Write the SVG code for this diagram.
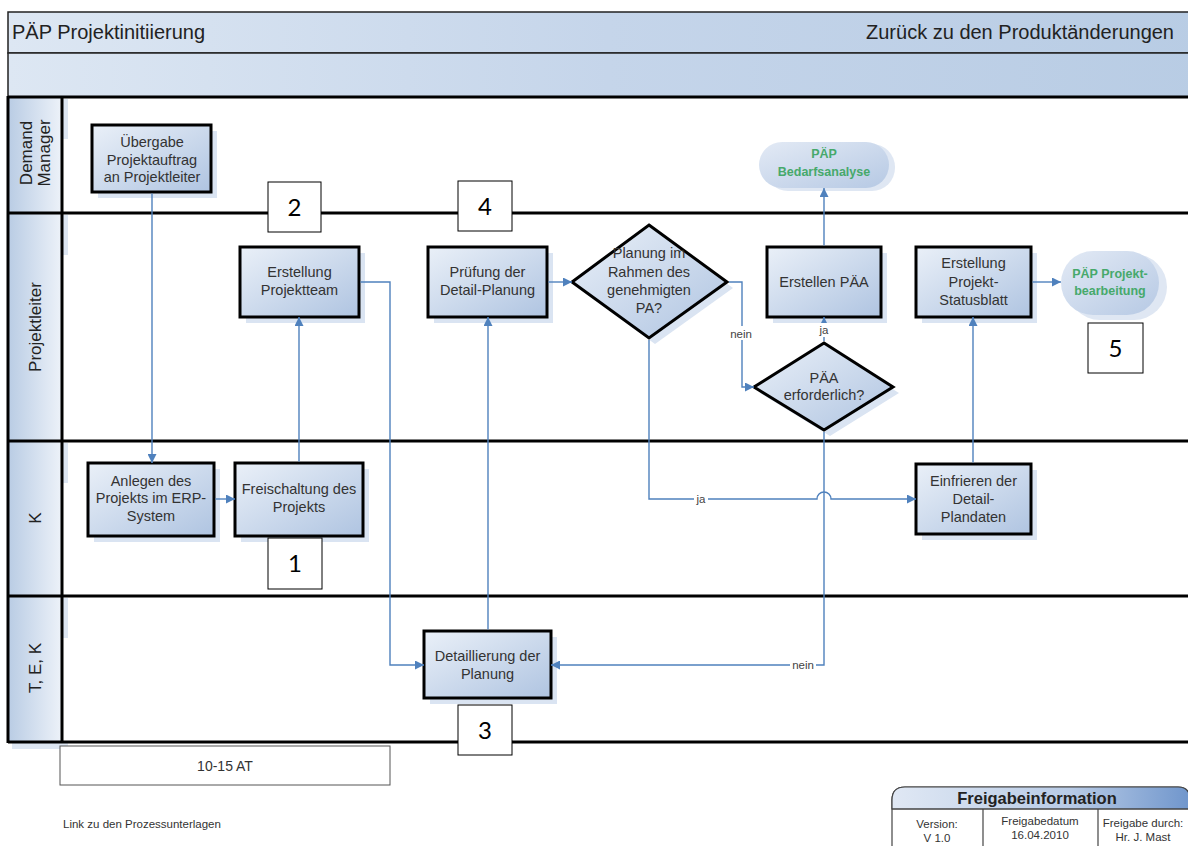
<svg xmlns="http://www.w3.org/2000/svg" width="1188" height="846" viewBox="0 0 1188 846">
<defs>
<linearGradient id="hdr" x1="0" y1="0" x2="1" y2="0"><stop offset="0" stop-color="#dde7f3"/><stop offset="0.5" stop-color="#c5d5ea"/><stop offset="1" stop-color="#b8cce4"/></linearGradient>
<linearGradient id="lane" x1="0" y1="0" x2="1" y2="0"><stop offset="0" stop-color="#b9cce4"/><stop offset="1" stop-color="#edf2f9"/></linearGradient>
<linearGradient id="node" x1="0" y1="0" x2="1" y2="1"><stop offset="0" stop-color="#eaf0f8"/><stop offset="1" stop-color="#afc4e1"/></linearGradient>
<linearGradient id="term" x1="0" y1="0" x2="1" y2="1"><stop offset="0" stop-color="#e3eaf5"/><stop offset="1" stop-color="#b6c9e4"/></linearGradient>
<linearGradient id="frei" x1="0" y1="0" x2="1" y2="0"><stop offset="0" stop-color="#e0e8f4"/><stop offset="0.6" stop-color="#b8cbe6"/><stop offset="1" stop-color="#7096cc"/></linearGradient>
<marker id="arr" viewBox="0 0 10 10" refX="10" refY="5" markerWidth="9" markerHeight="9" markerUnits="userSpaceOnUse" orient="auto"><path d="M0,0 L10,5 L0,10 z" fill="#4f81bd"/></marker>
</defs>
<style>
.t{font-family:"Liberation Sans",Arial,sans-serif;fill:#333;font-size:14.5px;text-anchor:middle}
.box{fill:url(#node);stroke:#000;stroke-width:3}
.sh{fill:#dae4f2}
.num{fill:#fff;stroke:#000;stroke-width:1}
.nt{font-family:Lato,"Open Sans",sans-serif;font-size:24px;fill:#000;text-anchor:middle}
.ln{fill:none;stroke:#000;stroke-width:3}
.c{fill:none;stroke:#4f81bd;stroke-width:1.4}
.lbl{font-family:"Liberation Sans",Arial,sans-serif;font-size:11.5px;fill:#444;text-anchor:middle}
.g{font-family:"Liberation Sans",Arial,sans-serif;font-size:12.5px;font-weight:bold;fill:#46a96b;text-anchor:middle}
.lane{font-family:"Liberation Sans",Arial,sans-serif;font-size:17px;fill:#222;text-anchor:middle}
.s{font-family:"Liberation Sans",Arial,sans-serif;fill:#333;text-anchor:middle;font-size:11.5px}
.h{font-family:"Liberation Sans",Arial,sans-serif;font-size:20px;fill:#222}
.sm{font-family:"Liberation Sans",Arial,sans-serif;font-size:11.5px;fill:#333}
.fb{font-family:"Liberation Sans",Arial,sans-serif;font-size:16.5px;font-weight:bold;fill:#222;text-anchor:middle}
</style>
<rect width="1188" height="846" fill="#fff"/>
<g id="header">
<rect x="8" y="12" width="1200" height="41" fill="url(#hdr)" stroke="#222" stroke-width="1.5"/>
<rect x="8" y="53" width="1200" height="44" fill="url(#hdr)" stroke="#222" stroke-width="1.5"/>
<text class="h" x="12" y="39">PÄP Projektinitiierung</text>
<text class="h" x="1174" y="39" text-anchor="end">Zurück zu den Produktänderungen</text>
</g>
<g id="lanes">
<rect x="8" y="97" width="54" height="645" fill="url(#lane)"/>
<rect x="62" y="99" width="6" height="40" fill="#dde6f2"/>
<rect x="62" y="215" width="6" height="40" fill="#dde6f2"/>
<rect x="62" y="443" width="6" height="40" fill="#dde6f2"/>
<rect x="62" y="598" width="6" height="40" fill="#dde6f2"/>
<rect x="12" y="743" width="56" height="6" fill="#dde6f2"/>
<line class="ln" x1="8" y1="97" x2="1188" y2="97"/>
<line class="ln" x1="8" y1="213" x2="1188" y2="213"/>
<line class="ln" x1="8" y1="441" x2="1188" y2="441"/>
<line class="ln" x1="8" y1="596" x2="1188" y2="596"/>
<line class="ln" x1="8" y1="742" x2="1188" y2="742"/>
<line class="ln" x1="8" y1="96" x2="8" y2="743"/>
<line class="ln" x1="62" y1="96" x2="62" y2="743"/>
<text class="lane" transform="translate(35,153) rotate(-90)"><tspan x="0" y="-3">Demand</tspan><tspan x="0" y="15">Manager</tspan></text>
<text class="lane" transform="translate(41,327) rotate(-90)">Projektleiter</text>
<text class="lane" transform="translate(41,518) rotate(-90)">K</text>
<text class="lane" transform="translate(41,668) rotate(-90)">T, E, K</text>
</g>
<g id="n-uebergabe">
<rect class="sh" x="98" y="131" width="119" height="67"/>
<rect class="box" x="92" y="125" width="119" height="67"/>
<text class="t"><tspan x="152" y="147">Übergabe</tspan><tspan x="152" y="165">Projektauftrag</tspan><tspan x="152" y="182">an Projektleiter</tspan></text>
</g>
<g id="n-bedarf">
<rect x="765" y="144" width="130" height="47" rx="23" fill="#dfe7f3"/>
<rect x="759" y="142" width="130" height="46" rx="23" fill="url(#term)"/>
<text class="g"><tspan x="824" y="158">PÄP</tspan><tspan x="824" y="176">Bedarfsanalyse</tspan></text>
</g>
<g id="n-team">
<rect class="sh" x="246" y="253" width="119" height="70"/>
<rect class="box" x="240" y="247" width="119" height="70"/>
<text class="t"><tspan x="299.5" y="277">Erstellung</tspan><tspan x="299.5" y="295">Projektteam</tspan></text>
</g>
<g id="n-pruefung">
<rect class="sh" x="434" y="253" width="119" height="70"/>
<rect class="box" x="428" y="247" width="119" height="70"/>
<text class="t"><tspan x="487.5" y="277">Prüfung der</tspan><tspan x="487.5" y="295">Detail-Planung</tspan></text>
</g>
<g id="n-rahmen">
<polygon points="655,232 733,288 655,344 578,288" fill="#dae4f2"/>
<polygon points="649,225 727,282 649,338 572,282" fill="url(#node)" stroke="#000" stroke-width="3"/>
<text class="t"><tspan x="649" y="258">Planung im</tspan><tspan x="649" y="277">Rahmen des</tspan><tspan x="649" y="295">genehmigten</tspan><tspan x="649" y="313">PA?</tspan></text>
</g>
<g id="n-erstellenpaa">
<rect class="sh" x="773" y="253" width="114" height="70"/>
<rect class="box" x="767" y="247" width="114" height="70"/>
<text class="t" x="824" y="287">Erstellen PÄA</text>
</g>
<g id="n-paa">
<polygon points="830,350 899,393 830,436 760,393" fill="#dae4f2"/>
<polygon points="824,343 893,387 824,430 754,387" fill="url(#node)" stroke="#000" stroke-width="3"/>
<text class="t"><tspan x="824" y="383">PÄA</tspan><tspan x="824" y="400">erforderlich?</tspan></text>
</g>
<g id="n-status">
<rect class="sh" x="922" y="253" width="115" height="70"/>
<rect class="box" x="916" y="247" width="115" height="70"/>
<text class="t"><tspan x="973.5" y="268">Erstellung</tspan><tspan x="973.5" y="287">Projekt-</tspan><tspan x="973.5" y="305">Statusblatt</tspan></text>
</g>
<g id="n-projektbearb">
<rect x="1067" y="254" width="100" height="66" rx="33" fill="#dfe7f3"/>
<rect x="1061" y="251" width="98" height="64" rx="32" fill="url(#term)"/>
<text class="g"><tspan x="1110" y="278">PÄP Projekt-</tspan><tspan x="1110" y="295">bearbeitung</tspan></text>
</g>
<g id="n-anlegen">
<rect class="sh" x="94" y="469" width="126" height="73"/>
<rect class="box" x="88" y="463" width="126" height="73"/>
<text class="t"><tspan x="151" y="486">Anlegen des</tspan><tspan x="151" y="503">Projekts im ERP-</tspan><tspan x="151" y="521">System</tspan></text>
</g>
<g id="n-freischaltung">
<rect class="sh" x="241" y="469" width="128" height="73"/>
<rect class="box" x="235" y="463" width="128" height="73"/>
<text class="t"><tspan x="299" y="494">Freischaltung des</tspan><tspan x="299" y="512">Projekts</tspan></text>
</g>
<g id="n-einfrieren">
<rect class="sh" x="922" y="470" width="115" height="70"/>
<rect class="box" x="916" y="464" width="115" height="70"/>
<text class="t"><tspan x="973.5" y="486">Einfrieren der</tspan><tspan x="973.5" y="504">Detail-</tspan><tspan x="973.5" y="522">Plandaten</tspan></text>
</g>
<g id="n-detaillierung">
<rect class="sh" x="430" y="637" width="127" height="67"/>
<rect class="box" x="424" y="631" width="127" height="67"/>
<text class="t"><tspan x="487.5" y="661">Detaillierung der</tspan><tspan x="487.5" y="679">Planung</tspan></text>
</g>
<g id="connectors">
<path class="c" d="M152,193.5 V463" marker-end="url(#arr)"/>
<path class="c" d="M215.5,499 H235" marker-end="url(#arr)"/>
<path class="c" d="M299,461.5 V317" marker-end="url(#arr)"/>
<path class="c" d="M360.5,282 H390 V665 H424" marker-end="url(#arr)"/>
<path class="c" d="M488,629.5 V317" marker-end="url(#arr)"/>
<path class="c" d="M548.5,282 H572" marker-end="url(#arr)"/>
<path class="c" d="M729,282 H742 V387 H754" marker-end="url(#arr)"/>
<path class="c" d="M824,341 V317" marker-end="url(#arr)"/>
<path class="c" d="M824,245.5 V188" marker-end="url(#arr)"/>
<path class="c" d="M1032.5,282 H1061" marker-end="url(#arr)"/>
<path class="c" d="M649,340 V499 H817 A7,7 0 0 1 831,499 H916" marker-end="url(#arr)"/>
<path class="c" d="M973,462.5 V317" marker-end="url(#arr)"/>
<path class="c" d="M824,432 V665 H551" marker-end="url(#arr)"/>
<rect x="728" y="326" width="26" height="14" fill="#fff"/>
<text class="lbl" x="741" y="338">nein</text>
<rect x="817" y="323" width="14" height="14" fill="#fff"/>
<text class="lbl" x="824" y="334">ja</text>
<rect x="694" y="492" width="14" height="14" fill="#fff"/>
<text class="lbl" x="701" y="503">ja</text>
<rect x="790" y="658" width="26" height="14" fill="#fff"/>
<text class="lbl" x="803" y="669">nein</text>
</g>
<g id="numbers">
<rect class="num" x="268" y="538" width="54" height="51"/><text class="nt" x="295" y="572">1</text>
<rect class="num" x="268" y="182" width="53" height="50"/><text class="nt" x="294.5" y="216">2</text>
<rect class="num" x="458" y="705" width="54" height="50"/><text class="nt" x="485" y="739">3</text>
<rect class="num" x="458" y="181" width="54" height="50"/><text class="nt" x="485" y="215">4</text>
<rect class="num" x="1088" y="323" width="55" height="50"/><text class="nt" x="1115.5" y="357">5</text>
</g>
<g id="footer">
<rect x="60" y="746" width="330" height="39" fill="#fff" stroke="#555" stroke-width="1"/>
<text class="t" x="225" y="771" style="font-size:14px">10-15 AT</text>
<text class="sm" x="63" y="828">Link zu den Prozessunterlagen</text>
</g>
<g id="freigabe">
<path d="M892,850 V800 Q892,787 905,787 H1178 Q1190,787 1190,800 V850" fill="#fff" stroke="#444" stroke-width="1.2"/>
<path d="M892,809 V800 Q892,787 905,787 H1178 Q1190,787 1190,800 V809 Z" fill="url(#frei)" stroke="#444" stroke-width="1.2"/>
<line x1="892" y1="809" x2="1190" y2="809" stroke="#444" stroke-width="1.2"/>
<line x1="983" y1="809" x2="983" y2="846" stroke="#444" stroke-width="1.2"/>
<line x1="1098" y1="809" x2="1098" y2="846" stroke="#444" stroke-width="1.2"/>
<text class="fb" x="1037" y="804">Freigabeinformation</text>
<text class="s"><tspan x="937" y="828">Version:</tspan><tspan x="937" y="842">V 1.0</tspan></text>
<text class="s"><tspan x="1040" y="825">Freigabedatum</tspan><tspan x="1040" y="839">16.04.2010</tspan></text>
<text class="s"><tspan x="1143" y="827">Freigabe durch:</tspan><tspan x="1143" y="841">Hr. J. Mast</tspan></text>
</g>
</svg>
